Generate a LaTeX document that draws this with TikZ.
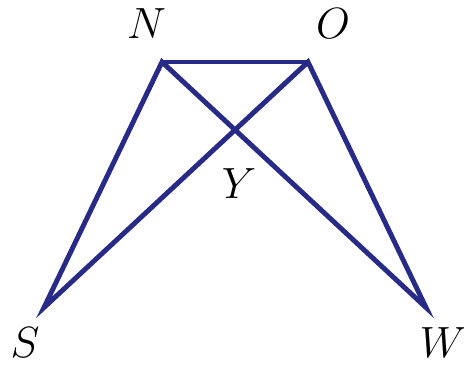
\documentclass[tikz,border=0pt]{standalone}
\usepackage{tikz}
\definecolor{navy}{RGB}{40,42,135}

\begin{document}
\begin{tikzpicture}[
    seg/.style={navy, line width=2.8pt, line join=miter},
    lab/.style={inner sep=0pt, font=\fontsize{24}{29}\selectfont}
]
\useasboundingbox (0,0) rectangle (9.28,7.32);
% ---------------- points ----------------
\coordinate (N) at (3.24,6.08);
\coordinate (O) at (6.16,6.08);
\coordinate (S) at (0.88,1.17);
\coordinate (W) at (8.52,1.17);
% ---------------- labels ----------------
\node[lab] (labN) at (2.93,6.84) {$N$};
\node[lab] (labO) at (6.66,6.84) {$O$};
\node[lab] (labY) at (4.78,3.64) {$Y$};
\node[lab] (labS) at (0.50,0.46) {$S$};
\node[lab] (labW) at (8.86,0.46) {$W$};
% ---------------- segments ----------------
\draw[seg] (S) -- (N) -- (W) -- (O) -- cycle;
\draw[seg] (N) -- (O);
\end{tikzpicture}
\end{document}
